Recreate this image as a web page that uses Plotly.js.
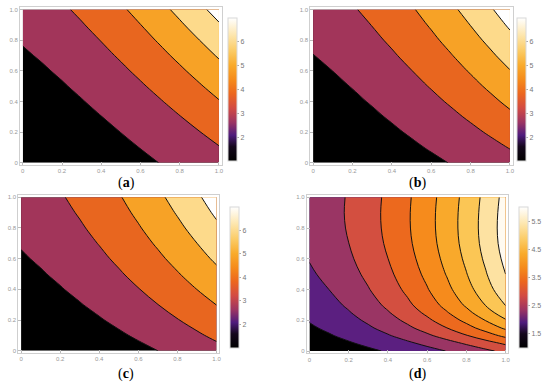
<!DOCTYPE html>
<html><head><meta charset="utf-8">
<script src="https://cdn.plot.ly/plotly-3.0.1.min.js"></script>
<style>html,body{margin:0;padding:0;background:#fff}#chart{width:550px;height:388px}</style>
</head><body><div id="chart"></div>
<script>
// ---- data ----
const gridX = [0, 0.1, 0.2, 0.3, 0.4, 0.5, 0.6, 0.7, 0.8, 0.9, 1.0];
const gridY = [0, 0.1, 0.2, 0.3, 0.4, 0.5, 0.6, 0.7, 0.8, 0.9, 1.0];
const zA = [
  [1.014, 1.105, 1.213, 1.339, 1.482, 1.643, 1.820, 2.016, 2.228, 2.423, 2.666],
  [1.124, 1.225, 1.344, 1.484, 1.643, 1.821, 2.018, 2.235, 2.443, 2.695, 2.966],
  [1.240, 1.351, 1.483, 1.637, 1.812, 2.008, 2.226, 2.446, 2.703, 2.981, 3.281],
  [1.361, 1.483, 1.628, 1.797, 1.990, 2.206, 2.433, 2.692, 2.975, 3.281, 3.611],
  [1.489, 1.622, 1.780, 1.965, 2.176, 2.408, 2.666, 2.950, 3.260, 3.595, 3.957],
  [1.623, 1.767, 1.940, 2.141, 2.371, 2.628, 2.910, 3.220, 3.558, 3.924, 4.318],
  [1.762, 1.919, 2.106, 2.325, 2.582, 2.857, 3.164, 3.501, 3.868, 4.266, 4.695],
  [1.907, 2.077, 2.280, 2.532, 2.797, 3.096, 3.428, 3.793, 4.191, 4.623, 5.088],
  [2.058, 2.241, 2.484, 2.735, 3.022, 3.344, 3.703, 4.097, 4.527, 4.994, 5.496],
  [2.215, 2.444, 2.675, 2.946, 3.255, 3.602, 3.988, 4.413, 4.876, 5.378, 5.919],
  [2.418, 2.625, 2.874, 3.164, 3.496, 3.869, 4.284, 4.740, 5.238, 5.777, 6.358]
];
const zB = [
  [1.020, 1.107, 1.212, 1.338, 1.482, 1.646, 1.829, 2.032, 2.254, 2.405, 2.656],
  [1.158, 1.256, 1.376, 1.518, 1.682, 1.868, 2.076, 2.307, 2.490, 2.755, 3.042],
  [1.297, 1.405, 1.539, 1.698, 1.881, 2.090, 2.323, 2.532, 2.805, 3.104, 3.427],
  [1.435, 1.555, 1.702, 1.878, 2.081, 2.312, 2.541, 2.817, 3.121, 3.454, 3.813],
  [1.573, 1.704, 1.866, 2.058, 2.280, 2.524, 2.798, 3.102, 3.437, 3.803, 4.199],
  [1.711, 1.853, 2.029, 2.238, 2.490, 2.756, 3.055, 3.387, 3.753, 4.153, 4.585],
  [1.850, 2.003, 2.192, 2.448, 2.700, 2.987, 3.312, 3.672, 4.069, 4.502, 4.971],
  [1.988, 2.152, 2.405, 2.638, 2.909, 3.219, 3.569, 3.957, 4.385, 4.852, 5.357],
  [2.126, 2.301, 2.579, 2.828, 3.119, 3.451, 3.826, 4.243, 4.701, 5.201, 5.743],
  [2.264, 2.531, 2.752, 3.018, 3.328, 3.683, 4.083, 4.528, 5.017, 5.551, 6.129],
  [2.503, 2.690, 2.925, 3.208, 3.538, 3.915, 4.340, 4.813, 5.333, 5.900, 6.515]
];
const zC = [
  [1.002, 1.091, 1.199, 1.324, 1.467, 1.627, 1.805, 2.001, 2.214, 2.486, 2.734],
  [1.170, 1.274, 1.399, 1.544, 1.710, 1.896, 2.103, 2.330, 2.618, 2.887, 3.176],
  [1.332, 1.450, 1.591, 1.756, 1.944, 2.156, 2.430, 2.688, 2.969, 3.273, 3.601],
  [1.488, 1.620, 1.777, 1.961, 2.170, 2.446, 2.707, 2.994, 3.307, 3.646, 4.011],
  [1.638, 1.783, 1.956, 2.158, 2.428, 2.686, 2.973, 3.289, 3.633, 4.005, 4.406],
  [1.783, 1.940, 2.128, 2.347, 2.637, 2.917, 3.229, 3.572, 3.945, 4.350, 4.785],
  [1.921, 2.090, 2.293, 2.568, 2.837, 3.139, 3.474, 3.843, 4.245, 4.680, 5.149],
  [2.054, 2.234, 2.490, 2.742, 3.029, 3.351, 3.709, 4.103, 4.532, 4.997, 5.497],
  [2.181, 2.412, 2.641, 2.908, 3.212, 3.554, 3.934, 4.351, 4.806, 5.299, 5.830],
  [2.302, 2.543, 2.785, 3.066, 3.387, 3.748, 4.148, 4.588, 5.068, 5.588, 6.147],
  [2.457, 2.668, 2.921, 3.217, 3.553, 3.932, 4.352, 4.813, 5.317, 5.862, 6.449]
];
const gridYD = [0, 0.05, 0.1, 0.15, 0.2, 0.25, 0.3, 0.4, 0.5, 0.6, 0.7, 0.8, 0.9, 1.0];
const zD = [
  [1.140, 1.217, 1.309, 1.417, 1.542, 1.682, 1.838, 2.011, 2.199, 2.403, 2.623],
  [1.246, 1.340, 1.455, 1.589, 1.743, 1.917, 2.110, 2.324, 2.557, 2.809, 3.082],
  [1.346, 1.463, 1.605, 1.771, 1.962, 2.178, 2.418, 2.682, 2.971, 3.285, 3.623],
  [1.439, 1.576, 1.741, 1.935, 2.157, 2.407, 2.686, 2.994, 3.330, 3.695, 4.088],
  [1.527, 1.679, 1.861, 2.075, 2.321, 2.599, 2.907, 3.248, 3.620, 4.023, 4.458],
  [1.610, 1.773, 1.970, 2.201, 2.466, 2.765, 3.098, 3.465, 3.866, 4.301, 4.770],
  [1.686, 1.858, 2.066, 2.310, 2.590, 2.905, 3.257, 3.645, 4.068, 4.527, 5.023],
  [1.821, 2.001, 2.219, 2.475, 2.768, 3.099, 3.467, 3.873, 4.317, 4.798, 5.317],
  [1.933, 2.116, 2.339, 2.599, 2.899, 3.236, 3.612, 4.026, 4.479, 4.970, 5.499],
  [2.021, 2.206, 2.431, 2.694, 2.996, 3.337, 3.717, 4.135, 4.592, 5.088, 5.622],
  [2.085, 2.272, 2.497, 2.762, 3.065, 3.408, 3.789, 4.210, 4.669, 5.167, 5.704],
  [2.126, 2.312, 2.536, 2.800, 3.102, 3.443, 3.822, 4.240, 4.697, 5.193, 5.728],
  [2.144, 2.328, 2.550, 2.811, 3.110, 3.447, 3.823, 4.237, 4.690, 5.181, 5.710],
  [2.138, 2.320, 2.540, 2.798, 3.094, 3.429, 3.801, 4.211, 4.659, 5.145, 5.669]
];
const axisTickVals = [0, 0.2, 0.4, 0.6, 0.8, 1.0];
const axisTickText = ['0', '0.2', '0.4', '0.6', '0.8', '1.0'];
const levelsABC = [2, 6, 1];
const levelsD = [1.5, 5.5, 0.5];
const cbRangeABC = [1, 7];
const cbRangeD = [1, 6];
const cbTicksABC = [2, 3, 4, 5, 6];
const cbTicksD = [1.5, 2.5, 3.5, 4.5, 5.5];
const cbTickTextD = ['1.5', '2.5', '3.5', '4.5', '5.5'];
const panelLabels = ['a', 'b', 'c', 'd'];

// ---- styling ----
const bandColorsABC = ['#000000', '#a2355a', '#e8661f', '#f7a226', '#fdda8b', '#ffffff'];
const bandColorsD = ['#000000', '#5b1f80', '#9a3564', '#d34f40', '#ec691e', '#f68b1c', '#f9a92b', '#fbc655', '#fde2a2', '#fffaf0'];
const gradient = [
  [0, '#000000'], [0.1, '#14071c'], [0.18, '#4e1b7c'], [0.27, '#9b3463'],
  [0.37, '#d24b43'], [0.47, '#ec661e'], [0.57, '#f58b1b'], [0.67, '#f9ab2c'],
  [0.77, '#fbcb65'], [0.88, '#fde6ad'], [1, '#ffffff']
];
function bandScale(cols) {
  return cols.map((c, k) => [k / (cols.length - 1), c]);
}

const panels = [
  {x: gridX, y: gridY, z: zA, lv: levelsABC, cols: bandColorsABC, cr: cbRangeABC, ct: cbTicksABC, ctt: cbTicksABC.map(String),
   xd: [0.0364, 0.4031], yd: [0.5747, 0.9812], cbx: 0.4145, cby: 0.7693, cblen: 143, lx: 0.2304, ly: 0.5284},
  {x: gridX, y: gridY, z: zB, lv: levelsABC, cols: bandColorsABC, cr: cbRangeABC, ct: cbTicksABC, ctt: cbTicksABC.map(String),
   xd: [0.5642, 0.9322], yd: [0.5747, 0.9812], cbx: 0.9395, cby: 0.7693, cblen: 143, lx: 0.7587, ly: 0.5284},
  {x: gridX, y: gridY, z: zC, lv: levelsABC, cols: bandColorsABC, cr: cbRangeABC, ct: cbTicksABC, ctt: cbTicksABC.map(String),
   xd: [0.0333, 0.3987], yd: [0.0902, 0.4974], cbx: 0.4182, cby: 0.2848, cblen: 141, lx: 0.2287, ly: 0.0361},
  {x: gridX, y: gridYD, z: zD, lv: levelsD, cols: bandColorsD, cr: cbRangeD, ct: cbTicksD, ctt: cbTickTextD,
   xd: [0.5576, 0.9242], yd: [0.0894, 0.4974], cbx: 0.9436, cby: 0.2848, cblen: 141, lx: 0.7591, ly: 0.0361}
];

const traces = [];
const layout = {
  width: 550, height: 388, margin: {l: 0, r: 0, t: 0, b: 0},
  paper_bgcolor: '#fff', plot_bgcolor: '#fff', showlegend: false,
  font: {family: 'Liberation Sans, Arial, sans-serif', color: '#888'},
  annotations: []
};

panels.forEach((p, i) => {
  const sfx = i === 0 ? '' : String(i + 1);
  traces.push({
    type: 'contour', x: p.x, y: p.y, z: p.z,
    xaxis: 'x' + sfx, yaxis: 'y' + sfx,
    autocontour: false,
    contours: {start: p.lv[0], end: p.lv[1], size: p.lv[2], coloring: 'fill', showlines: true},
    colorscale: bandScale(p.cols),
    line: {color: '#111', width: 1, smoothing: 1},
    showscale: false, hoverinfo: 'skip'
  });
  traces.push({
    type: 'scatter', mode: 'markers', x: p.x, y: p.x,
    xaxis: 'x' + sfx, yaxis: 'y' + sfx, hoverinfo: 'skip',
    marker: {
      size: 1, opacity: 0, color: p.z[0], cmin: p.cr[0], cmax: p.cr[1],
      colorscale: gradient, showscale: true,
      colorbar: {
        x: p.cbx, xanchor: 'left', y: p.cby, yanchor: 'middle',
        thickness: 9, len: p.cblen, lenmode: 'pixels', xpad: 0, ypad: 0,
        outlinewidth: 1, outlinecolor: '#d8d8d8', borderwidth: 0,
        tickmode: 'array', tickvals: p.ct, ticktext: p.ctt,
        ticks: 'outside', ticklen: 2, tickcolor: '#aaa',
        tickfont: {size: 7, color: '#777', family: 'Liberation Sans, Arial, sans-serif'}
      }
    }
  });
  const axCommon = {
    showgrid: false, zeroline: false, showline: true, mirror: true,
    linecolor: '#cfcfcf', linewidth: 1, ticks: 'inside', ticklen: 3, tickcolor: '#bbb',
    tickmode: 'array', tickvals: axisTickVals, ticktext: axisTickText,
    tickfont: {size: 6, color: '#999'}, fixedrange: true
  };
  layout['xaxis' + sfx] = Object.assign({}, axCommon, {domain: p.xd, range: [-0.014, 1.014], anchor: 'y' + sfx});
  layout['yaxis' + sfx] = Object.assign({}, axCommon, {domain: p.yd, range: [-0.015, 1.015], anchor: 'x' + sfx});
  layout.annotations.push({
    xref: 'paper', yref: 'paper', x: p.lx, y: p.ly, xanchor: 'center', yanchor: 'middle',
    text: '(<b>' + panelLabels[i] + '</b>)', showarrow: false,
    font: {family: 'Liberation Serif, DejaVu Serif, serif', size: 14, color: '#000'}
  });
});

Plotly.newPlot('chart', traces, layout, {staticPlot: true, displayModeBar: false});
</script>
</body></html>
